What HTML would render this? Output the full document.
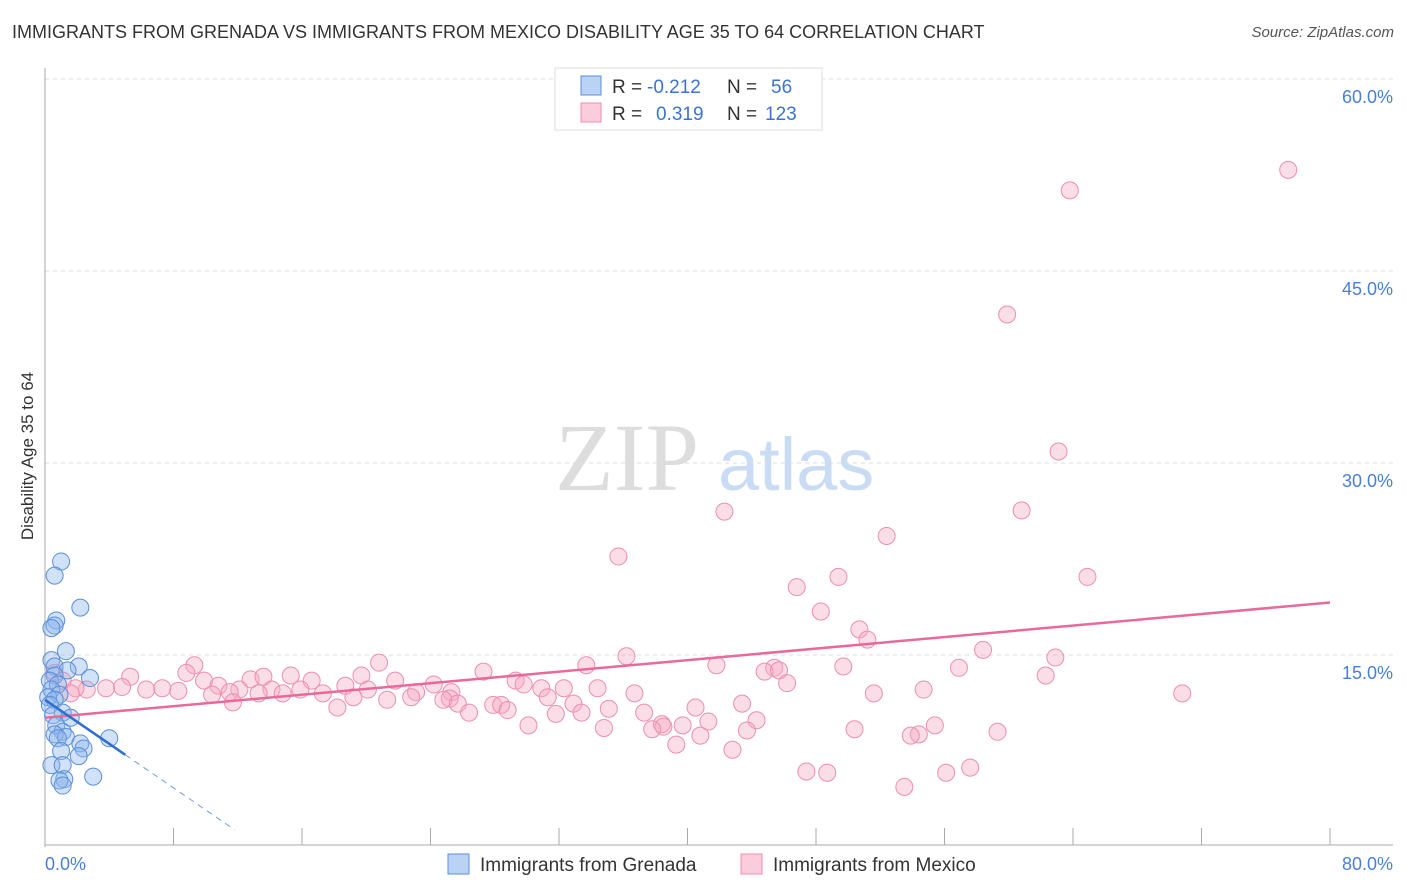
<!DOCTYPE html>
<html><head><meta charset="utf-8">
<style>
body{margin:0;background:#fff;font-family:"Liberation Sans",sans-serif;}
#wrap{position:relative;width:1406px;height:892px;}
.t{position:absolute;white-space:nowrap;}
</style></head>
<body>
<div id="wrap">
<div class="t" style="left:12px;top:22px;font-size:18px;color:#333;">IMMIGRANTS FROM GRENADA VS IMMIGRANTS FROM MEXICO DISABILITY AGE 35 TO 64 CORRELATION CHART</div>
<div class="t" style="right:12px;top:24px;font-size:15px;color:#555;font-style:italic;">Source: ZipAtlas.com</div>
<svg id="svg" width="1406" height="892" style="position:absolute;left:0;top:0"></svg>
</div>
<script>
const xTicks=[0,8,16,24,32,40,48,56,64,72,80];
const yTicks=[15,30,45,60];
const yTickLabels=["15.0%","30.0%","45.0%","60.0%"];
const xEndLabels=["0.0%","80.0%"];
const mexicoX=[77.4,63.8,59.9,63.1,60.8,42.3,52.4,35.7,64.9,49.4,46.8,48.3,50.7,51.2,58.4,62.9,36.2,41.8,45.4,49.7,56.9,33.7,20.8,9.3,27.3,44.8,45.7,62.3,15.3,8.8,5.3,46.2,29.3,21.8,19.7,16.6,12.8,13.6,9.9,29.8,24.2,34.4,30.9,32.3,36.7,54.7,51.6,70.8,18.7,15.9,14.1,12.1,10.8,8.3,7.3,6.3,4.8,3.8,2.6,1.9,25.3,23.1,20.1,17.3,14.8,13.3,11.5,10.4,25.2,22.8,21.3,19.2,31.3,11.7,24.8,32.9,18.2,43.4,27.9,28.4,25.7,40.5,35.1,37.3,28.8,26.4,33.4,31.8,30.1,44.3,41.3,39.7,38.4,38.5,34.8,37.8,55.4,43.7,50.4,54.4,53.9,59.3,40.8,39.3,42.8,57.6,56.1,47.4,48.7,53.5,0.6,1.1,1.6];
const mexicoY=[52.9,51.3,41.6,30.9,26.3,26.2,24.3,22.7,21.1,21.1,20.3,18.4,17.0,16.2,15.4,14.8,14.9,14.2,14.0,14.1,14.0,14.2,14.4,14.2,13.7,13.7,13.8,13.4,13.4,13.6,13.3,12.8,13.0,13.0,13.4,13.0,13.1,13.3,13.0,12.7,12.7,12.4,12.4,12.4,12.0,12.3,12.0,12.0,12.6,12.3,12.3,12.3,12.6,12.2,12.4,12.3,12.5,12.4,12.3,12.4,12.1,12.1,12.3,12.0,12.0,12.0,12.1,11.9,11.6,11.7,11.5,11.7,11.7,11.3,11.5,11.2,10.9,11.2,11.1,11.1,11.2,10.9,10.8,10.5,10.7,10.5,10.5,10.4,9.5,9.9,9.8,9.5,9.6,9.4,9.3,9.2,9.5,9.1,9.2,8.8,8.7,9.0,8.7,8.0,7.6,6.2,5.8,5.9,5.8,4.7,13.6,13.0,12.0];
const grenadaX=[1.0,0.6,2.2,0.7,0.6,0.4,1.3,0.4,2.1,0.6,1.4,0.6,2.8,0.3,0.8,0.4,0.9,0.2,0.6,0.3,1.1,0.5,1.6,0.7,1.1,0.6,1.3,0.8,4.0,2.2,2.4,1.0,2.1,0.4,1.1,3.0,1.2,0.9,1.1];
const grenadaY=[22.3,21.2,18.7,17.7,17.3,17.1,15.3,14.6,14.1,14.1,13.8,13.4,13.2,13.0,12.7,12.3,11.9,11.7,11.5,11.1,10.5,10.3,10.1,9.5,9.0,8.8,8.6,8.5,8.5,8.1,7.7,7.5,7.1,6.4,6.4,5.5,5.3,5.2,4.8];
const mexicoTrend=[10.1,19.1];
const grenadaTrend=[11.5,-0.86];

const NS="http://www.w3.org/2000/svg";
const svg=document.getElementById('svg');
const X0=45,X1=1330,Y0=847,PXY=192/15;
const sx=v=>X0+(v/80)*(X1-X0);
const sy=v=>Y0-v*PXY;
function mk(tag,attrs,parent){const e=document.createElementNS(NS,tag);for(const k in attrs)e.setAttribute(k,attrs[k]);(parent||svg).appendChild(e);return e;}

// watermark
let wm=mk('text',{x:555,y:490,'font-size':96,'font-family':'Liberation Serif,serif',fill:'#ddd'});
wm.textContent='ZIP';


let wm2=mk('text',{x:718,y:490,'font-size':74,'font-family':'Liberation Sans,sans-serif',fill:'#c9dcf3'});
wm2.textContent='atlas';



// gridlines
yTicks.forEach((v,i)=>{
 let g=mk('line',{x1:X0,x2:1393,y1:sy(v),y2:sy(v),stroke:'#ddd','stroke-dasharray':'4,4'});
 
 
 let t=mk('text',{x:1393,y:sy(v)+24,'text-anchor':'end','font-size':18,fill:'#4a7fd4'});
 t.textContent=yTickLabels[i];
 
 
});
let topg=mk('line',{x1:X0,x2:1393,y1:79,y2:79,stroke:'#ddd','stroke-dasharray':'4,4'});


// axes
let ya=mk('line',{x1:X0,x2:X0,y1:68,y2:Y0,stroke:'#aaa'});


let xa=mk('line',{x1:X0,x2:1393,y1:Y0-2,y2:Y0-2,stroke:'#aaa'});


xTicks.forEach(v=>{
 let t=mk('line',{x1:sx(v),x2:sx(v),y1:828,y2:Y0-2,stroke:'#aaa'});
 
 
});
[[0,'start',45],[80,'end',1393]].forEach((d,i)=>{
 let t=mk('text',{x:d[2],y:870,'text-anchor':d[1],'font-size':18,fill:'#4a7fd4'});
 t.textContent=xEndLabels[i];
 
 
});
let yt=mk('text',{x:0,y:0,'font-size':17,fill:'#333','text-anchor':'middle',transform:'translate(33,456) rotate(-90)'});
yt.textContent='Disability Age 35 to 64';



// points
mexicoX.forEach((x,i)=>{
 let c=mk('circle',{cx:sx(x),cy:sy(mexicoY[i]),r:8.5,fill:'rgba(246,170,196,0.4)',stroke:'#ec8fae','stroke-width':1});
 
 
});
grenadaX.forEach((x,i)=>{
 let c=mk('circle',{cx:sx(x),cy:sy(grenadaY[i]),r:8.5,fill:'rgba(140,180,235,0.4)',stroke:'#5b8fd8','stroke-width':1});
 
 
});
// trends
let mt=mk('line',{x1:sx(0),y1:sy(mexicoTrend[0]),x2:sx(80),y2:sy(mexicoTrend[1]),stroke:'#e8699a','stroke-width':2.5});


const gy=x=>grenadaTrend[0]+grenadaTrend[1]*x;
let gt=mk('line',{x1:sx(0),y1:sy(gy(0)),x2:sx(5),y2:sy(gy(5)),stroke:'#2f6fd0','stroke-width':2.5});


let gd=mk('line',{x1:sx(5),y1:sy(gy(5)),x2:sx(11.8),y2:sy(gy(11.8)),stroke:'#6f9be0','stroke-width':1,'stroke-dasharray':'6,5'});



// legend box
let lb=mk('rect',{x:555,y:68,width:267,height:62,fill:'#fff',stroke:'#ddd'});


[['rgba(140,180,235,0.6)','#5b8fd8','-0.212',' 56',76],['rgba(246,170,196,0.6)','#ec8fae','0.319','123',103]].forEach((r,i)=>{
 let s=mk('rect',{x:581,y:r[4],width:20,height:19,fill:r[0],stroke:r[1]});
 
 
 let t=mk('text',{x:612,y:r[4]+17,'font-size':19,fill:'#333'});
 t.innerHTML='R = <tspan fill="#3b73d1" x="'+(i?656:647)+'">'+r[2]+'</tspan><tspan x="727" fill="#333">N = </tspan><tspan fill="#3b73d1" x="'+(i?765:771)+'">'+r[3].trim()+'</tspan>';
 
 
});
// bottom legend
[[448,'rgba(140,180,235,0.6)','#5b8fd8','Immigrants from Grenada'],[741,'rgba(246,170,196,0.6)','#ec8fae','Immigrants from Mexico']].forEach(d=>{
 let s=mk('rect',{x:d[0],y:854,width:21,height:20,fill:d[1],stroke:d[2]});
 
 
 let t=mk('text',{x:d[0]+32,y:871,'font-size':19,fill:'#333'});
 t.textContent=d[3];
 
 
});
</script>
</body></html>
